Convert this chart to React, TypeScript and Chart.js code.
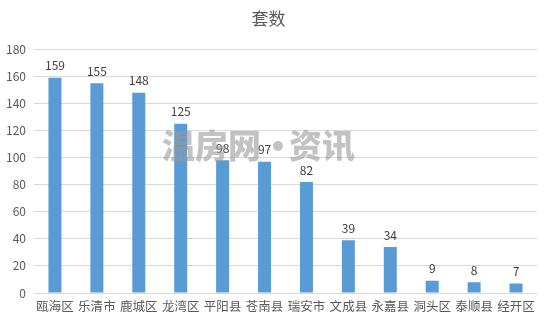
import React, { useEffect, useRef } from "react";
import { Chart, registerables } from "chart.js";

Chart.register(...registerables);

const categories = ["瓯海区", "乐清市", "鹿城区", "龙湾区", "平阳县", "苍南县", "瑞安市", "文成县", "永嘉县", "洞头区", "泰顺县", "经开区"];
const values = [159, 155, 148, 125, 98, 97, 82, 39, 34, 9, 8, 7];
const titleText = "套数";
const watermarkLeft = "温房网";
const watermarkRight = "资讯";

const FONT = "'Noto Sans CJK SC', 'Noto Sans', sans-serif";

const labelPlugin = {
  id: "valueLabels",
  afterDatasetsDraw(chart: any) {
    const ctx = chart.ctx;
    const meta = chart.getDatasetMeta(0);
    ctx.save();
    ctx.font = `12px ${FONT}`;
    ctx.fillStyle = "#404040";
    ctx.textAlign = "center";
    ctx.textBaseline = "bottom";
    meta.data.forEach((bar: any, i: number) => {
      ctx.fillText(String(values[i]), bar.x, bar.y - 6);
    });
    ctx.restore();
  },
};

const watermarkPlugin = {
  id: "watermark",
  afterDraw(chart: any) {
    const ctx = chart.ctx;
    ctx.save();
    ctx.globalAlpha = 0.6;
    ctx.font = `900 33px ${FONT}`;
    ctx.fillStyle = "#9a9a9a";
    ctx.textAlign = "left";
    ctx.textBaseline = "middle";
    ctx.fillText(watermarkLeft, 162, 145);
    ctx.fillText(watermarkRight, 289, 145);
    ctx.beginPath();
    ctx.arc(278, 146, 5, 0, Math.PI * 2);
    ctx.fill();
    ctx.restore();
  },
};

export default function App() {
  const ref = useRef<HTMLCanvasElement>(null);
  useEffect(() => {
    document.body.style.margin = "0";
    const chart = new Chart(ref.current!, {
      type: "bar",
      data: {
        labels: categories,
        datasets: [
          {
            data: values,
            backgroundColor: "#5B9BD5",
            barPercentage: 0.31,
            categoryPercentage: 1,
          },
        ],
      },
      options: {
        animation: false,
        responsive: false,
        layout: { padding: { left: 0, right: 13, top: 0, bottom: 0 } },
        plugins: {
          legend: { display: false },
          tooltip: { enabled: false },
          title: {
            display: true,
            text: titleText,
            color: "#595959",
            font: { size: 17, family: FONT, weight: "normal" },
            padding: { top: 8, bottom: 21 },
          },
        },
        scales: {
          x: {
            grid: { display: false, drawTicks: false },
            border: { display: true, color: "#D9D9D9" },
            ticks: {
              color: "#595959",
              font: { size: 12.5, family: FONT },
              maxRotation: 0,
              autoSkip: false,
              padding: 6,
            },
            afterFit(scale: any) {
              scale.height = 29;
            },
          },
          y: {
            min: 0,
            max: 180,
            ticks: {
              stepSize: 20,
              color: "#595959",
              font: { size: 12, family: FONT },
              padding: 8,
            },
            grid: { color: "#D9D9D9", drawTicks: false },
            border: { display: false },
            afterFit(scale: any) {
              scale.width = 34;
            },
          },
        },
      },
      plugins: [labelPlugin, watermarkPlugin],
    });
    return () => chart.destroy();
  }, []);
  return <canvas ref={ref} width={550} height={322} style={{ display: "block" }} />;
}
